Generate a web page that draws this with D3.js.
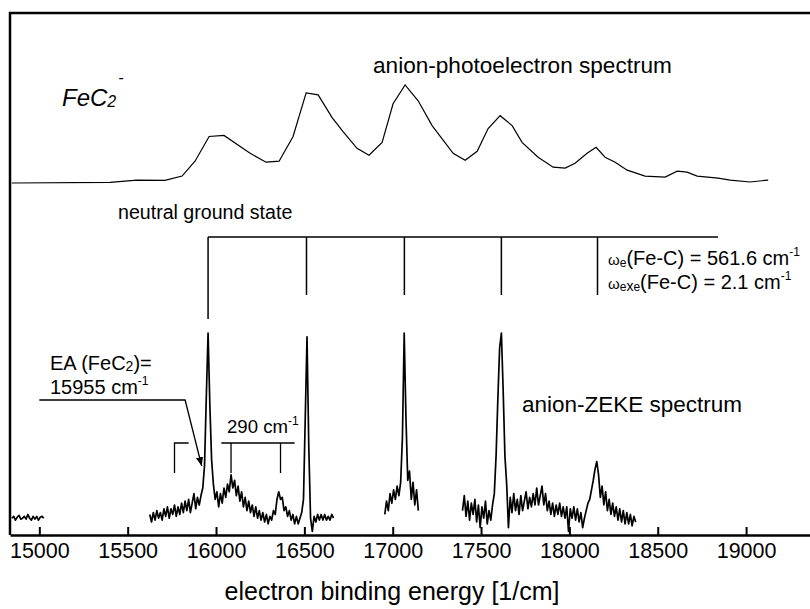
<!DOCTYPE html>
<html>
<head>
<meta charset="utf-8">
<script src="https://cdn.jsdelivr.net/npm/d3@7"></script>
<style>
  body { margin: 0; background: #fff; }
  svg text { font-family: "Liberation Sans", Arial, Helvetica, sans-serif; fill: #000; }
</style>
</head>
<body>
<svg id="chart"></svg>
<script>
// x axis tick values, 1/cm
const xTicks = [15000, 15500, 16000, 16500, 17000, 17500, 18000, 18500, 19000];

// anion photoelectron spectrum: [energy 1/cm, intensity]
const pesData = [
    [14844, 0], [15400, 0.7], [15553, 3], [15711, 2.7], [15808, 7], [15881, 22],
    [15961, 47], [16045, 48], [16193, 30], [16283, 21], [16357, 22], [16436, 47],
    [16510, 91], [16578, 89], [16657, 66], [16719, 52], [16798, 35], [16866, 28],
    [16940, 41], [17002, 80], [17070, 99], [17144, 83], [17223, 58], [17342, 30],
    [17410, 23], [17478, 32], [17540, 55], [17608, 68], [17676, 58], [17732, 41],
    [17823, 26], [17908, 16], [17976, 15], [18032, 20], [18100, 30], [18151, 36],
    [18202, 26], [18259, 21], [18327, 13], [18428, 7], [18542, 6], [18610, 12],
    [18666, 11], [18723, 7], [18842, 5], [18910, 3], [19023, 1], [19125, 3]
];

// neutral ground state vibrational levels, 1/cm
const levels = [15955, 16512, 17066, 17615, 18159];
const levelsEnd = 18841;

// anion-ZEKE scans: start energy of each scan, sampled every 10 1/cm
const zekeStep = 10;
const zekeStarts = [14845, 15625, 16955, 17395];
const zekeScan1 = [2, 3, 1, 2.5, 3.5, 1.5, 2, 3, 1.5, 4, 2, 1, 3, 1.5, 3, 1, 2.5, 3, 2];
const zekeScan2 = [
    4, 0, 5, 1, 6, 2, 5, 1, 7, 3, 8, 2, 7, 4, 9, 3, 8, 4, 10, 5,
    11, 6, 12, 5, 10, 15, 7, 13, 9, 14, 18, 30, 66, 100, 62, 33, 20, 12, 16, 8,
    15, 10, 18, 13, 20, 16, 25, 18, 22, 14, 19, 11, 16, 8, 13, 6, 11, 5, 9, 3,
    8, 2, 6, 1, 5, 0, 4, -1, 3, 1, 6, 4, 12, 16, 12, 13, 6, 8, 3, 6,
    1, 4, -1, 3, -1, 2, 5, 12, 55, 98, 40, 2, -5, 3, 0, 4, 1, 4, 1, 4,
    1, 3, 1, 4, 2
];
const zekeScan3 = [4, 11, 6, 15, 10, 17, 12, 19, 14, 21, 45, 100, 55, 22, 27, 12, 21, 9, 17, 6];
const zekeScan4 = [
    6, 14, 3, 11, 1, 10, 4, 12, 0, 9, -3, 8, 2, 11, -1, 6, 1, 9, 15, 35,
    65, 92, 100, 70, 35, 20, -3, 13, 5, 15, 6, 12, 4, 14, 6, 11, 16, 7, 13, 8,
    15, 9, 18, 9, 14, 19, 9, 15, 6, 11, 4, 10, 3, 9, 4, 10, 3, 8, 2, 8,
    -5, 7, 2, 8, 1, 7, 0, 5, -3, 2, 6, 10, 12, 17, 22, 28, 32, 25, 13, 19,
    9, 16, 6, 12, 4, 10, 3, 8, 1, 7, 0, 6, -1, 5, -1, 4, -2, 3, 0
];
const zekeScans = [zekeScan1, zekeScan2, zekeScan3, zekeScan4];

// assignments in the ZEKE trace, 1/cm
const ea = 15955;
const hotBand = 15765;
const sideBands = [16085, 16365];
const sideBandBar = [16030, 16445];

const width = 810;
const height = 609;
const frame = {left: 10, right: 812, top: 13, bottom: 535};

const svg = d3.select('#chart')
    .attr('width', width)
    .attr('height', height);

const x = d3.scaleLinear()
    .domain([14834, 19373])
    .range([frame.left, frame.right]);

const yPes = d3.scaleLinear().domain([0, 100]).range([183, 84]);
const yZeke = d3.scaleLinear().domain([0, 100]).range([522, 333]);

// frame
svg.append('path')
    .attr('d', `M${frame.left},${frame.bottom}V${frame.top}H${frame.right}`)
    .attr('fill', 'none')
    .attr('stroke', '#000')
    .attr('stroke-width', 2.5);

// bottom axis with inward ticks
const axis = svg.append('g')
    .attr('transform', `translate(0,${frame.bottom})`)
    .call(d3.axisBottom(x).tickValues(xTicks).tickSize(-8).tickSizeOuter(0).tickFormat(d3.format('d')));
axis.select('.domain').attr('stroke-width', 2.5);
axis.selectAll('.tick line').attr('stroke-width', 2);
axis.selectAll('.tick text')
    .attr('y', 23)
    .attr('dy', null)
    .attr('font-size', 21.5)
    .attr('font-family', null);

svg.append('text')
    .attr('x', 392)
    .attr('y', 600)
    .attr('text-anchor', 'middle')
    .attr('font-size', 25)
    .text('electron binding energy [1/cm]');

// photoelectron spectrum
const pesLine = d3.line().x(d => x(d[0])).y(d => yPes(d[1]));
svg.append('path')
    .datum(pesData)
    .attr('d', pesLine)
    .attr('fill', 'none')
    .attr('stroke', '#000')
    .attr('stroke-width', 1.2);

// ZEKE scans
const zekeLine = d3.line()
    .x((d, i) => x(d.start + i * zekeStep))
    .y(d => yZeke(d.v));
zekeScans.forEach((scan, k) => {
    const pts = scan.map(v => ({start: zekeStarts[k], v: v}));
    svg.append('path')
        .attr('d', zekeLine(pts))
        .attr('fill', 'none')
        .attr('stroke', '#000')
        .attr('stroke-width', 1.7)
        .attr('stroke-linejoin', 'round');
});

// neutral ground state progression
const prog = svg.append('g').attr('stroke', '#000').attr('stroke-width', 1.5);
prog.append('line')
    .attr('x1', x(levels[0])).attr('x2', x(levelsEnd))
    .attr('y1', 237).attr('y2', 237);
prog.selectAll('.lvl')
    .data(levels)
    .enter().append('line')
    .attr('class', 'lvl')
    .attr('x1', d => x(d)).attr('x2', d => x(d))
    .attr('y1', 237)
    .attr('y2', (d, i) => i === 0 ? 319 : 295);

// hot band and 290 cm-1 markers
const marks = svg.append('g').attr('stroke', '#000').attr('stroke-width', 1.3).attr('fill', 'none');
marks.append('path')
    .attr('d', `M${x(hotBand)},473V443H${x(hotBand + 80)}`);
marks.append('line')
    .attr('x1', x(sideBandBar[0])).attr('x2', x(sideBandBar[1]))
    .attr('y1', 443).attr('y2', 443);
marks.selectAll('.sb')
    .data(sideBands)
    .enter().append('line')
    .attr('class', 'sb')
    .attr('x1', d => x(d)).attr('x2', d => x(d))
    .attr('y1', 443).attr('y2', 473);

// EA arrow
svg.append('defs').append('marker')
    .attr('id', 'head')
    .attr('viewBox', '0 0 10 10')
    .attr('refX', 10).attr('refY', 5)
    .attr('markerWidth', 9).attr('markerHeight', 9)
    .attr('markerUnits', 'userSpaceOnUse')
    .attr('orient', 'auto')
    .append('path')
    .attr('d', 'M0,1L10,5L0,9Z')
    .attr('fill', '#000');
svg.append('path')
    .attr('d', `M${x(15000)},400H${x(15825)}L${x(15919)},466`)
    .attr('fill', 'none')
    .attr('stroke', '#000')
    .attr('stroke-width', 1.3)
    .attr('marker-end', 'url(#head)');

// labels
const fe = svg.append('text').attr('x', 62).attr('y', 106)
    .attr('font-size', 24).attr('font-style', 'italic');
fe.append('tspan').text('FeC');
fe.append('tspan').attr('font-size', 16).attr('dy', 1).text('2');
fe.append('tspan').attr('font-size', 16).attr('dy', -24).attr('dx', 2).text('-');

svg.append('text')
    .attr('x', 373).attr('y', 73)
    .attr('font-size', 22.6)
    .text('anion-photoelectron spectrum');

svg.append('text')
    .attr('x', 118).attr('y', 219)
    .attr('font-size', 19.6)
    .text('neutral ground state');

const w1 = svg.append('text').attr('x', 608).attr('y', 265).attr('font-size', 20);
w1.append('tspan').attr('font-size', 15).text('ω');
w1.append('tspan').attr('font-size', 12).attr('dy', 2).text('e');
w1.append('tspan').attr('dy', -2).text('(Fe-C) = 561.6 cm');
w1.append('tspan').attr('font-size', 12).attr('dy', -9).text('-1');

const w2 = svg.append('text').attr('x', 608).attr('y', 289).attr('font-size', 20);
w2.append('tspan').attr('font-size', 15).text('ω');
w2.append('tspan').attr('font-size', 12).attr('dy', 2).text('e');
w2.append('tspan').attr('font-size', 14).text('x');
w2.append('tspan').attr('font-size', 12).text('e');
w2.append('tspan').attr('dy', -2).text('(Fe-C) = 2.1 cm');
w2.append('tspan').attr('font-size', 12).attr('dy', -9).text('-1');

const ea1 = svg.append('text').attr('x', 50).attr('y', 370).attr('font-size', 20);
ea1.append('tspan').text('EA (FeC');
ea1.append('tspan').attr('font-size', 14).attr('dy', 1).text('2');
ea1.append('tspan').attr('dy', -1).text(')=');

const ea2 = svg.append('text').attr('x', 50).attr('y', 394).attr('font-size', 20);
ea2.append('tspan').text(d3.format('d')(ea) + ' cm');
ea2.append('tspan').attr('font-size', 12).attr('dy', -9).text('-1');

const cm290 = svg.append('text').attr('x', 227).attr('y', 433).attr('font-size', 18.6);
cm290.append('tspan').text('290 cm');
cm290.append('tspan').attr('font-size', 12).attr('dy', -8).text('-1');

svg.append('text')
    .attr('x', 522).attr('y', 412)
    .attr('font-size', 22.5)
    .text('anion-ZEKE spectrum');
</script>
</body>
</html>
